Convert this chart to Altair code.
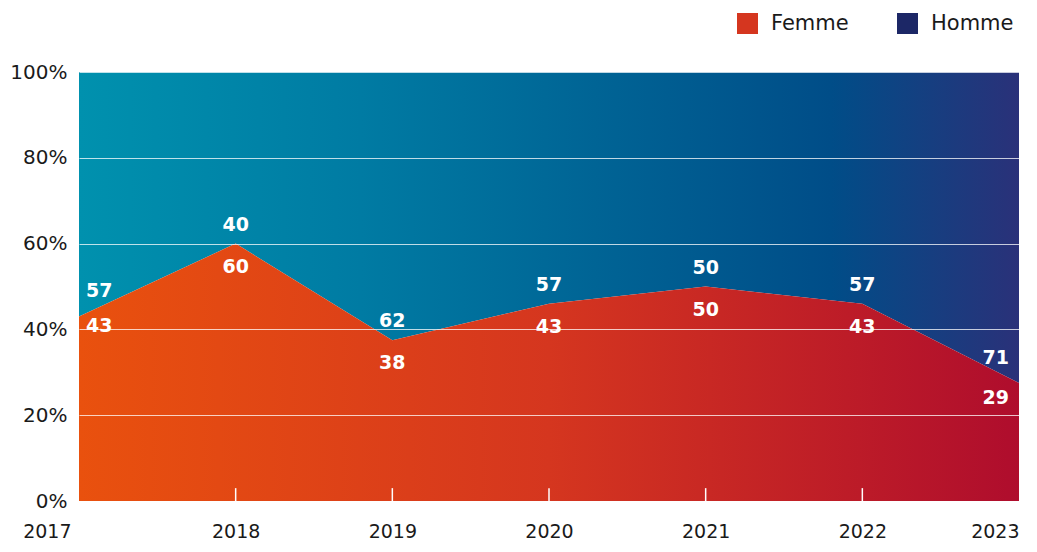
import altair as alt
import pandas as pd

# ---- data ----
years = [2017, 2018, 2019, 2020, 2021, 2022, 2023]
femme_share = [43, 60, 37.5, 46, 50, 46, 27.5]      # drawn boundary (%)
femme_label = [43, 60, 38, 43, 50, 43, 29]           # printed Femme values
homme_label = [57, 40, 62, 57, 50, 57, 71]           # printed Homme values
series = ["Femme", "Homme"]
y_ticks = [0, 20, 40, 60, 80, 100]

df = pd.DataFrame({"year": years, "femme": femme_share,
                   "fl": femme_label, "hl": homme_label})
df_leg = pd.DataFrame({"series": series})

FONT = "DejaVu Sans"
TXT = "#1a1a1a"

x_enc = alt.X(
    "year:Q",
    scale=alt.Scale(domain=[2017, 2023], nice=False, zero=False),
    axis=alt.Axis(
        values=years, format="d", title=None, ticks=False, tickSize=0,
        domain=False, grid=False, labelFont=FONT, labelFontSize=19,
        labelColor=TXT, labelPadding=21, labelFlush=False, labelBound=False,
        labelOverlap=False,
        labelAlign={"condition": {"test": "datum.value == 2017 || datum.value == 2023",
                                  "value": "right"}, "value": "center"},
        labelOffset={"condition": {"test": "datum.value == 2017", "value": -8},
                     "value": 0},
    ),
)
y_enc = alt.Y(
    "femme:Q",
    scale=alt.Scale(domain=[0, 100], nice=False),
    axis=alt.Axis(
        values=y_ticks, labelExpr="datum.value + '%'", title=None,
        domain=False, ticks=False, tickSize=0, grid=True, gridColor="white",
        gridOpacity=0.75, gridWidth=1.2, labelFont=FONT, labelFontSize=20,
        labelColor=TXT, labelPadding=12, zindex=1,
    ),
)

grad_f = alt.LinearGradient(
    gradient="linear", x1=0, x2=1, y1=0, y2=0,
    stops=[alt.GradientStop(color="#E9510E", offset=0),
           alt.GradientStop(color="#D5361F", offset=0.5),
           alt.GradientStop(color="#AF0D2D", offset=1)],
)
grad_h = alt.LinearGradient(
    gradient="linear", x1=0, x2=1, y1=0, y2=0,
    stops=[alt.GradientStop(color="#0091AE", offset=0),
           alt.GradientStop(color="#007BA3", offset=0.3),
           alt.GradientStop(color="#006495", offset=0.55),
           alt.GradientStop(color="#004D88", offset=0.8),
           alt.GradientStop(color="#2A3179", offset=1)],
)

legend_layer = alt.Chart(df_leg).mark_square(size=10).encode(
    x=alt.datum(2020), y=alt.datum(50),
    color=alt.Color(
        "series:N",
        scale=alt.Scale(domain=series, range=["#D5361F", "#1C2766"]),
        legend=alt.Legend(
            orient="none", legendX=658, legendY=-59, direction="horizontal",
            title=None, symbolType="square", symbolSize=441,
            symbolStrokeWidth=0, symbolOpacity=1, labelFont=FONT,
            labelFontSize=21, labelColor=TXT, labelOffset=13,
            columnPadding=48,
        ),
    ),
)

homme_area = alt.Chart(df).mark_area(fill=grad_h, interpolate="linear").encode(
    x=x_enc, y=y_enc, y2=alt.datum(100)
)
femme_area = alt.Chart(df).mark_area(fill=grad_f, interpolate="linear").encode(
    x=x_enc, y=y_enc
)

ticks = alt.Chart(df).transform_filter(
    "datum.year > 2017 && datum.year < 2023"
).mark_rule(color="white", strokeWidth=1.5).encode(
    x=x_enc, y=alt.datum(0), y2=alt.datum(3)
)


def labels(field, filt, align, dx, dy):
    return alt.Chart(df).transform_filter(filt).mark_text(
        font=FONT, fontSize=19, fontWeight="bold", color="white",
        align=align, baseline="middle", dx=dx, dy=dy,
    ).encode(x=x_enc, y=y_enc, text=alt.Text(f"{field}:Q"))


mid = "datum.year > 2017 && datum.year < 2023"
first = "datum.year == 2017"
last = "datum.year == 2023"

text_layers = [
    labels("hl", mid, "center", 0, -19),
    labels("fl", mid, "center", 0, 23),
    labels("hl", first, "left", 7, -26),
    labels("fl", first, "left", 7, 9),
    labels("hl", last, "right", -10, -25),
    labels("fl", last, "right", -10, 15),
]

chart = alt.layer(
    legend_layer, homme_area, femme_area, ticks, *text_layers
).properties(
    width=940, height=429,
    padding={"left": 71, "top": 64, "right": 10, "bottom": 43},
    autosize=alt.AutoSizeParams(type="none"),
    background="white",
).configure_view(stroke=None)

chart.save("out.html", embed_options={"renderer": "svg", "actions": False})
